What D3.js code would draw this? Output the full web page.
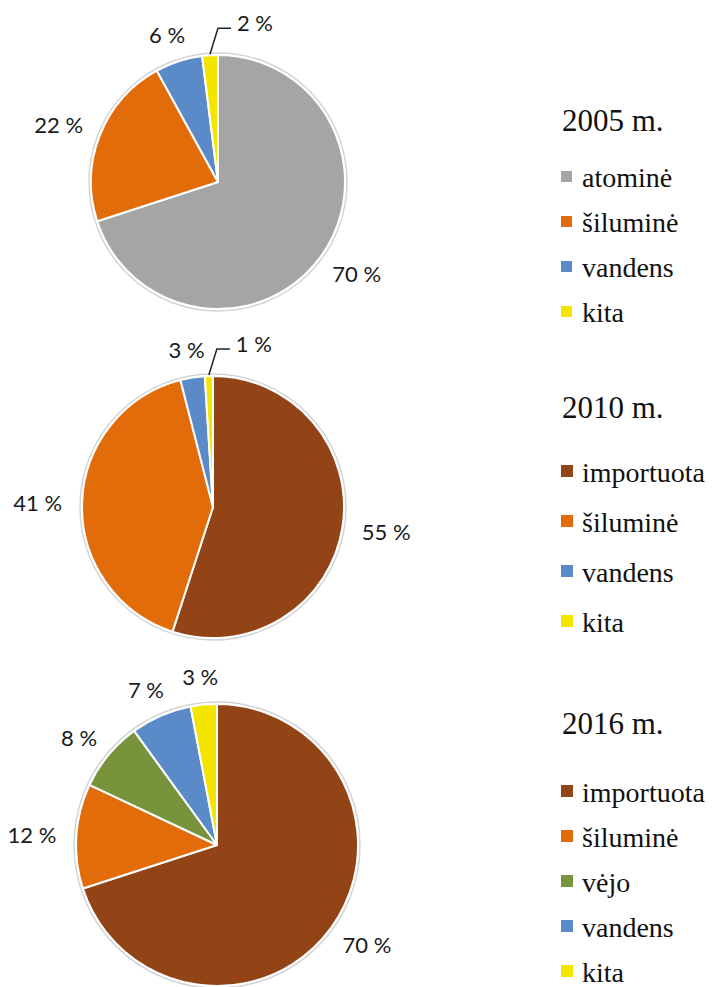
<!DOCTYPE html>
<html>
<head>
<meta charset="utf-8">
<script src="https://cdn.jsdelivr.net/npm/d3@7"></script>
<style>
  body { margin: 0; background: #fff; }
  .lbl { font-family: Lato, "Open Sans", sans-serif; font-size: 22px; fill: #1a1a1a; }
  .leg { font-family: "Liberation Serif", "Times New Roman", serif; fill: #111; }
</style>
</head>
<body>
<div id="chart"></div>
<script>
// years of the three pies
let years = ["2005 m.", "2010 m.", "2016 m."];

// categories per year (clockwise from 12 o'clock)
let cats2005 = ["atominė", "šiluminė", "vandens", "kita"];
let cats2010 = ["importuota", "šiluminė", "vandens", "kita"];
let cats2016 = ["importuota", "šiluminė", "vėjo", "vandens", "kita"];

// shares in percent
let vals2005 = [70, 22, 6, 2];
let vals2010 = [55, 41, 3, 1];
let vals2016 = [70, 12, 8, 7, 3];

let colors = {
    "atominė": "#a5a5a5",
    "importuota": "#924417",
    "šiluminė": "#e36c0a",
    "vėjo": "#77933c",
    "vandens": "#5a8bc8",
    "kita": "#f3e500"
};

let W = 713, H = 987;

let svg = d3.select("#chart").append("svg")
    .attr("width", W)
    .attr("height", H);

// layout of each block: pie centre/radius and legend position
let blocks = [
    {cats: cats2005, vals: vals2005, cx: 218, cy: 182, r: 127, legX: 561, titleY: 131, itemY: 187, step: 45, sq: 11},
    {cats: cats2010, vals: vals2010, cx: 213, cy: 507, r: 131, legX: 561, titleY: 418, itemY: 482, step: 50, sq: 12},
    {cats: cats2016, vals: vals2016, cx: 217, cy: 845, r: 141, legX: 561, titleY: 734, itemY: 802, step: 45, sq: 12}
];

let pie = d3.pie().sort(null).value(d => d.value);

blocks.forEach((b, bi) => {
    let data = b.cats.map((c, i) => ({cat: c, value: b.vals[i]}));
    let arcs = pie(data);
    let arc = d3.arc().innerRadius(0).outerRadius(b.r);

    let g = svg.append("g").attr("transform", `translate(${b.cx},${b.cy})`);

    // faint outer rim like the original shadow
    g.append("circle")
        .attr("r", b.r + 2)
        .attr("fill", "none")
        .attr("stroke", "#d4d4d4")
        .attr("stroke-width", 1.5);

    g.selectAll("path")
        .data(arcs)
        .join("path")
        .attr("d", arc)
        .attr("fill", d => colors[d.data.cat])
        .attr("stroke", "#fff")
        .attr("stroke-width", 2)
        .attr("stroke-linejoin", "round");

    // data labels, outside end
    arcs.forEach(a => {
        let mid = (a.startAngle + a.endAngle) / 2;
        let s = Math.sin(mid), c = -Math.cos(mid);
        let txt = a.data.value + " %";
        if (a.data.value < 2.5) {
            // small slice: leader line, label pushed to the right
            let p0 = [s * (b.r + 1), c * (b.r + 1)];
            let p1 = [p0[0] + 8, p0[1] - 26];
            let p2 = [p1[0] + 13, p1[1]];
            g.append("path")
                .attr("d", d3.line()([p0, p1, p2]))
                .attr("fill", "none")
                .attr("stroke", "#222")
                .attr("stroke-width", 1.5);
            g.append("text")
                .attr("class", "lbl")
                .attr("x", p2[0] + 6)
                .attr("y", p2[1] - 6)
                .attr("dominant-baseline", "central")
                .text(txt);
        } else {
            let rr = b.r + 20;
            let t = g.append("text")
                .attr("class", "lbl")
                .attr("text-anchor", "middle")
                .attr("dominant-baseline", "central")
                .text(txt);
            let w = t.node().getComputedTextLength();
            t.attr("x", s * rr + s * w / 2)
             .attr("y", c * rr + c * 8);
        }
    });

    // legend
    let lg = svg.append("g");
    lg.append("text")
        .attr("class", "leg")
        .attr("x", b.legX + 1)
        .attr("y", b.titleY)
        .attr("font-size", 31)
        .text(years[bi]);

    b.cats.forEach((c, i) => {
        let y = b.itemY + i * b.step;
        lg.append("rect")
            .attr("x", b.legX)
            .attr("y", y - 5 - b.sq)
            .attr("width", b.sq)
            .attr("height", b.sq)
            .attr("fill", colors[c]);
        lg.append("text")
            .attr("class", "leg")
            .attr("x", b.legX + 21)
            .attr("y", y)
            .attr("font-size", 28)
            .text(c);
    });
});
</script>
</body>
</html>
